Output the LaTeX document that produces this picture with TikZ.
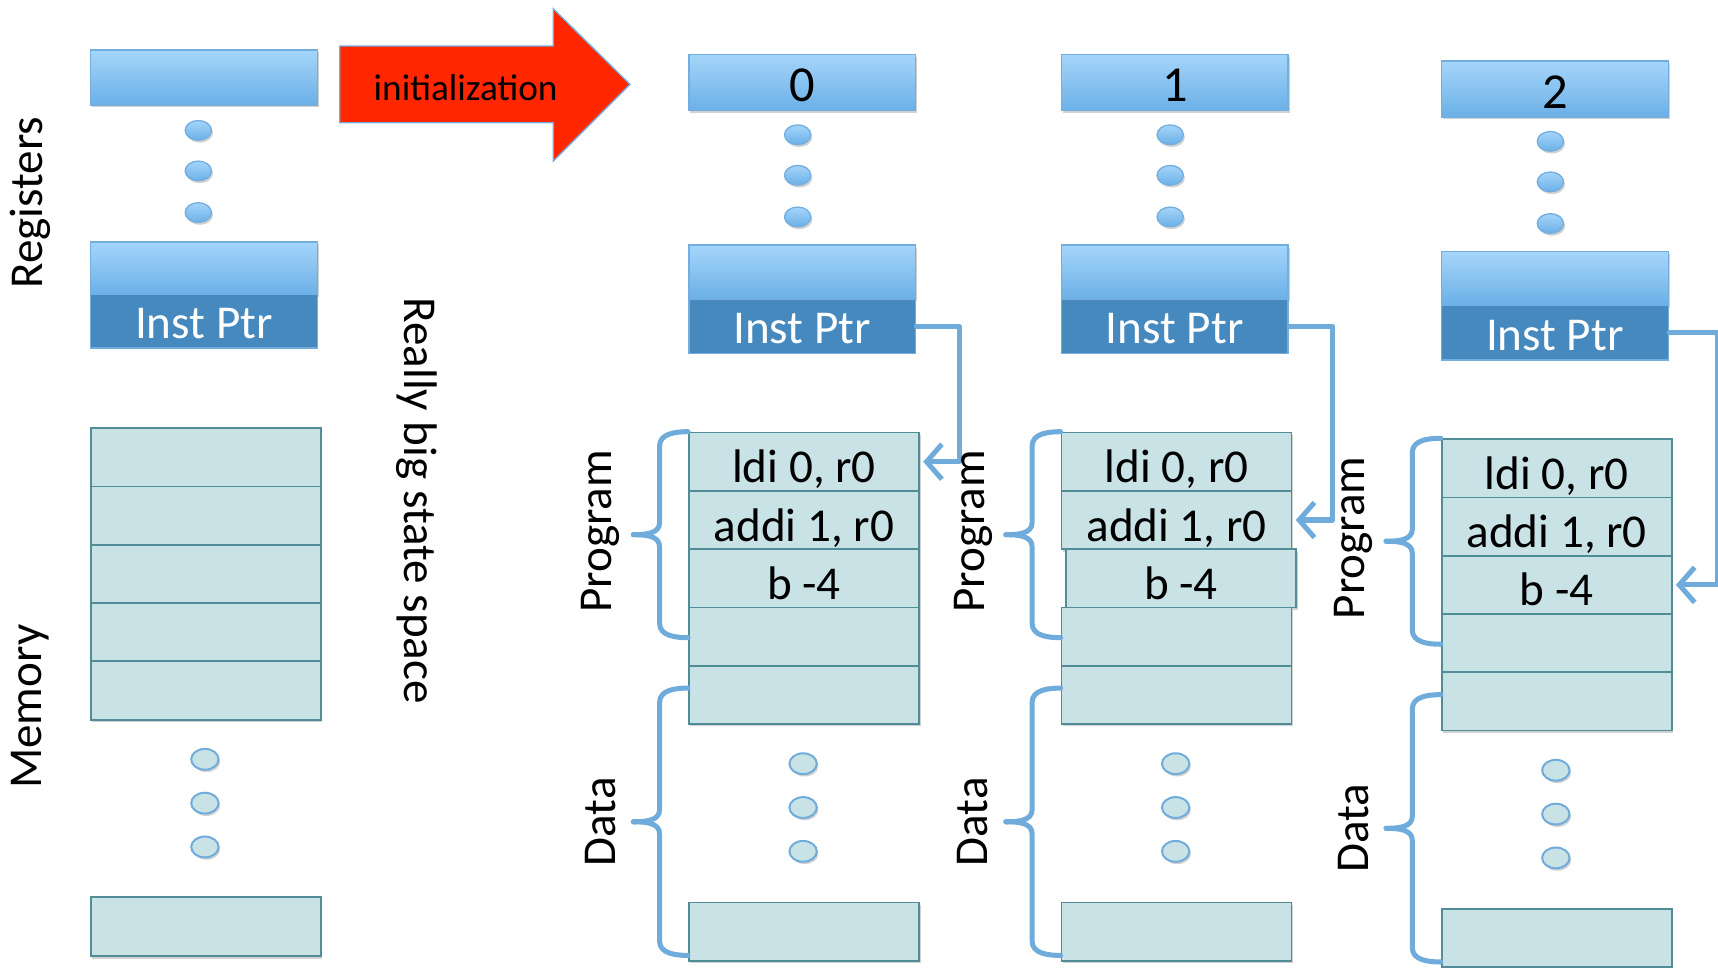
\documentclass[tikz,border=0pt]{standalone}
\usepackage{fontspec}
\setmainfont{Carlito}
\usetikzlibrary{arrows.meta,shadows,shapes.geometric}
\definecolor{regtop}{HTML}{A5D5FA}
\definecolor{regbot}{HTML}{6BB0E7}
\definecolor{regline}{HTML}{74AEDF}
\definecolor{ipdark}{HTML}{4589BF}
\definecolor{memfill}{HTML}{C8E2E6}
\definecolor{memline}{HTML}{508D96}
\definecolor{conn}{HTML}{6FACDB}
\definecolor{initred}{HTML}{FF2600}
\tikzset{
 shd/.style={drop shadow={shadow xshift=0.7pt,shadow yshift=-1.1pt,opacity=0.3,fill=black!60}},
 regbox/.style={draw=regline, line width=0.7pt, top color=regtop, bottom color=regbot, anchor=north west, inner sep=0pt, minimum width=103.5pt, text height=17.5pt, text depth=0pt, font=\fontsize{23}{23}\selectfont, shd},
 ipbox/.style={draw=regline, line width=0.7pt, fill=ipdark, text=white, anchor=north west, inner sep=0pt, minimum width=103.5pt, minimum height=25pt, text height=16pt, text depth=0pt, font=\fontsize{21.5}{21.5}\selectfont},
 memcell/.style={draw=memline, line width=0.8pt, fill=memfill, anchor=north west, inner sep=0pt, minimum width=105pt, minimum height=26.6pt, text height=19.2pt, text depth=0pt, font=\fontsize{21.5}{21.5}\selectfont, shd},
 regdot/.style={ellipse, draw=regline, line width=0.6pt, top color=regtop, bottom color=regbot, minimum width=12pt, minimum height=9pt, inner sep=0pt, shd},
 memdot/.style={ellipse, draw=conn, line width=0.9pt, fill=memfill, minimum width=12.5pt, minimum height=9.5pt, inner sep=0pt, shd},
 lbl/.style={font=\fontsize{21.5}{21.5}\selectfont, inner sep=0pt},
 brc/.style={draw=conn, line width=2.3pt, line cap=round},
 iparr/.style={draw=conn, line width=2.3pt, line join=round, line cap=round, -{Straight Barb[length=7pt,width=16pt]}, shorten >=1.5pt},
}
\newcommand\mybrace[3]{%
 \pgfmathsetmacro\bv{#1-26}\pgfmathsetmacro\bt{#1-50}\pgfmathsetmacro\bm{(#2+#3)/2}%
 \draw[brc] (#1,#2) to[out=180,in=90] (\bv,#2+13) -- (\bv,\bm-11) to[out=-90,in=0] (\bt,\bm);
 \draw[brc] (\bt,\bm) to[out=0,in=90] (\bv,\bm+11) -- (\bv,#3-13) to[out=-90,in=180] (#1,#3);}
\begin{document}
\begin{tikzpicture}[x=0.5pt,y=-0.5pt]
\useasboundingbox (0,0) rectangle (1568,883);
% left column
\node[regbox, minimum height=25pt] (ltop) at (82,45) {};
\foreach \k/\yy in {1/119,2/156,3/194} \node[regdot] (lrd\k) at (181,\yy) {};
\node[regbox, minimum height=24pt] (lipl) at (82,220) {};
\node[ipbox, minimum height=24.5pt] (lip) at (82,268) {Inst Ptr};
\foreach \k in {1,...,5} \node[memcell] (lmem\k) at (82,390+53.2*\k-53.2) {};
\foreach \k/\yy in {1/693,2/733,3/773} \node[memdot] (lmd\k) at (187,\yy) {};
\node[memcell, minimum height=27pt] (lbot) at (82,818) {};
\node[lbl, rotate=90] (lreg) at (28,185) {Registers};
\node[lbl, rotate=90] (lmemlab) at (28,645) {Memory};
\node[lbl, rotate=-90] (big) at (380,457) {Really big state space};
% initialization arrow
\draw[fill=initred, draw=regline, line width=0.6pt] (310,42) -- (505,42) -- (505,8) -- (575,77) -- (505,147) -- (505,112) -- (310,112) -- cycle;
\node[font=\fontsize{17}{17}\selectfont, inner sep=0pt] (init) at (425,80) {initialization};
% state columns
\foreach \c/\x/\dy/\bs/\tr/\ax in {0/628/0/0/1/39, 1/968/0/4/2/40, 2/1315/6/0/3/44}{
 \node[regbox, minimum height=25.5pt] (top\c) at (\x,49+\dy) {\c};
 \foreach \k/\yy in {1/123,2/160,3/198} \node[regdot] (rd\c-\k) at (\x+100,\yy+\dy) {};
 \node[regbox, minimum height=24.5pt] (ipl\c) at (\x,223+\dy) {};
 \node[ipbox] (ip\c) at (\x,272+\dy) {Inst Ptr};
 \node[memcell] (mem\c-1) at (\x,394+\dy) {ldi 0, r0};
 \node[memcell] (mem\c-2) at (\x,447.2+\dy) {addi 1, r0};
 \node[memcell] (mem\c-3) at (\x+\bs,500.4+\dy) {b -4};
 \node[memcell] (mem\c-4) at (\x,553.6+\dy) {};
 \node[memcell] (mem\c-5) at (\x,606.8+\dy) {};
 \foreach \k/\yy in {1/697,2/737,3/777} \node[memdot] (md\c-\k) at (\x+105,\yy+\dy) {};
 \node[memcell, minimum height=26.5pt] (bot\c) at (\x,823+\dy) {};
 \node[lbl, rotate=90] (prog\c) at (\x-80,485+\dy) {Program};
 \node[lbl, rotate=90] (data\c) at (\x-80,750+\dy) {Data};
 \mybrace{\x}{394+\dy}{582+\dy}
 \mybrace{\x}{628+\dy}{872+\dy}
 \draw[iparr] (ip\c.east) -- ++(\ax,0) |- (mem\c-\tr.east);
}
\end{tikzpicture}
\end{document}
